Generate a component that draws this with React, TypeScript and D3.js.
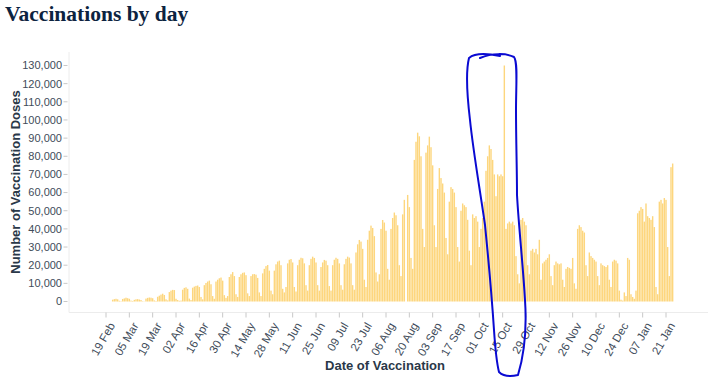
import React from 'react';
import * as d3 from 'd3';

// ---- data ----
const startDate = '2021-02-22'; // first day of dailyDoses (Monday)
// daily vaccination doses, grouped by week (Mon..Sun)
const dailyDoses: number[] = [
  0, 1000, 1300, 1500, 1200, 400, 200,
  1400, 1700, 2100, 1800, 1500, 500, 300,
  900, 1200, 1300, 1100, 800, 200, 100,
  1600, 2000, 2200, 2100, 1800, 600, 300,
  2600, 3200, 3800, 4300, 3600, 1200, 600,
  5200, 6000, 6400, 6300, 1500, 800, 400,
  500, 6500, 7500, 7800, 7000, 1600, 800,
  7600, 8200, 8600, 8800, 8000, 2500, 1200,
  9000, 10200, 11000, 11500, 9500, 3000, 1500,
  11000, 12000, 12800, 13200, 11500, 3500, 2000,
  3000, 13500, 15000, 16200, 14000, 4000, 2500,
  13500, 15000, 15800, 16000, 14500, 4500, 3000,
  14000, 15000, 15100, 14800, 13000, 5000, 3000,
  15500, 18000, 19500, 20100, 17000, 6000, 4000,
  17000, 20500, 22000, 22500, 20000, 7000, 5000,
  8000, 21000, 23000, 23400, 21500, 8000, 5500,
  20000, 23000, 24100, 23800, 21000, 9000, 6000,
  20000, 23500, 24700, 24000, 21500, 9000, 6000,
  19000, 21500, 22900, 22500, 20000, 8500, 6000,
  20000, 23000, 24100, 23500, 21000, 9000, 6500,
  20500, 23500, 24700, 24200, 21000, 9000, 6500,
  27000, 31500, 33900, 33000, 29000, 12000, 8000,
  34000, 39000, 41800, 40500, 36000, 16000, 11000,
  15000, 40000, 44900, 43500, 39000, 18000, 12000,
  40000, 46000, 49000, 47500, 42000, 20000, 14000,
  48000, 56000, 0, 58700, 52000, 24000, 18000,
  78000, 88000, 93000, 91000, 80000, 40000, 30000,
  82000, 86000, 90800, 85000, 75000, 42000, 30000,
  62000, 73500, 68000, 65000, 60000, 35000, 26000,
  55000, 63000, 62000, 60000, 52000, 30000, 22000,
  50000, 54000, 53000, 52000, 45000, 28000, 20000,
  48000, 46000, 47000, 44000, 30000, 40000, 46000,
  55000, 72000, 80000, 86000, 84000, 78000, 70000,
  58000, 70000, 69000, 70000, 69000, 130000, 40000,
  43000, 44000, 43000, 44000, 42000, 25000, 15000,
  10000, 45000, 46000, 44000, 42000, 20000, 15000,
  28000, 29000, 27000, 29000, 26000, 34000, 12000,
  21000, 22000, 23000, 24000, 26000, 14000, 9000,
  20000, 22000, 21000, 20500, 21000, 12000, 8000,
  18000, 19000, 18500, 18000, 24000, 10000, 7000,
  40000, 42000, 41000, 39000, 38000, 20000, 14000,
  27000, 25000, 24000, 23000, 22000, 14000, 9000,
  21000, 20000, 19500, 19000, 20000, 12000, 8000,
  22000, 23000, 22500, 21000, 6000, 1000, 500,
  5000, 3000, 24000, 23000, 4000, 2500, 1500,
  6000, 48600, 50000, 52000, 51000, 44000, 54000,
  47000, 46000, 45000, 47000, 41000, 8000, 4000,
  55000, 56000, 54000, 57000, 56000, 30000, 14000,
  74000, 76000,
];
const yTickValues = [0, 10000, 20000, 30000, 40000, 50000, 60000, 70000, 80000, 90000, 100000, 110000, 120000, 130000];
const xTickFirst = '2021-02-19';
const xTickLast = '2022-01-21';
const xTickStepDays = 14;

const titleText = 'Vaccinations by day';
const yTitle = 'Number of Vaccination Doses';
const xTitle = 'Date of Vaccination';

export default function App() {
  const W = 711;
  const H = 392;
  const parse = d3.utcParse('%Y-%m-%d');
  const start = parse(startDate) as Date;
  const data = dailyDoses.map((v, i) => ({ date: d3.utcDay.offset(start, i), value: v }));
  const t0 = parse(xTickFirst) as Date;
  const t1 = parse(xTickLast) as Date;

  const x = d3.scaleUtc().domain([t0, t1]).range([106, 666]);
  const y = d3.scaleLinear().domain([0, 130000]).range([301.5, 65.5]);
  const xTicks = d3.utcDay.range(t0, d3.utcDay.offset(t1, 1), 1).filter((d, i) => i % xTickStepDays === 0);
  const fmt = d3.utcFormat('%d %b');
  const yFmt = d3.format(',');

  const barW = 1.4;
  const axisY = 312.5;
  const axisX = 69;
  const labelColor = '#414c5a';
  const font = 'Liberation Sans, Arial, sans-serif';

  const loop =
    'M 480 58 C 492 53, 506 53, 514 57 C 518 62, 516 85, 516 110 C 516 140, 517 170, 517 195 ' +
    'C 519 230, 523 265, 525 300 C 527 330, 524 355, 518 375 C 510 377, 503 376, 499 372 ' +
    'C 496 360, 495 345, 494 330 C 492 300, 489 265, 485 225 C 480 190, 473 150, 470 120 ' +
    'C 467 95, 466 70, 469 58 C 476 52, 490 54, 500 56';

  return (
    <svg width={W} height={H} style={{ position: 'absolute', left: 0, top: 0, background: '#fff' }}>
      <text x={5} y={21} fontFamily="Liberation Serif, serif" fontWeight="bold" fontSize={21.5} fill="#0c2340">
        {titleText}
      </text>

      {/* axis domains */}
      <line x1={axisX} x2={axisX} y1={52} y2={axisY} stroke="#ececec" strokeWidth={1} />
      <line x1={axisX} x2={708} y1={axisY} y2={axisY} stroke="#ececec" strokeWidth={1} />

      {/* y axis */}
      {yTickValues.map((v) => (
        <g key={v}>
          <line x1={63.5} x2={67.5} y1={y(v)} y2={y(v)} stroke="#c8c8c8" />
          <text x={62} y={y(v)} dy="0.35em" textAnchor="end" fontFamily={font} fontSize={11} fill={labelColor}>
            {yFmt(v)}
          </text>
        </g>
      ))}
      <text
        transform={`translate(19.5,182) rotate(-90)`}
        textAnchor="middle"
        fontFamily={font}
        fontWeight="bold"
        fontSize={13}
        fill="#2a3848"
      >
        {yTitle}
      </text>

      {/* bars */}
      {data.map((d, i) =>
        d.value > 0 ? (
          <rect
            key={i}
            x={x(d.date) - barW / 2}
            y={y(d.value)}
            width={barW}
            height={y(0) - y(d.value)}
            fill="#fdd67e"
          />
        ) : null
      )}

      {/* x axis */}
      {xTicks.map((t, i) => (
        <g key={i}>
          <line x1={x(t)} x2={x(t)} y1={axisY} y2={axisY + 5} stroke="#c8c8c8" />
          <text
            transform={`translate(${x(t) + 6},${axisY + 11}) rotate(-60)`}
            textAnchor="end"
            dy="0.35em"
            fontFamily={font}
            fontSize={11.5}
            fill={labelColor}
          >
            {fmt(t)}
          </text>
        </g>
      ))}
      <text x={385} y={370} textAnchor="middle" fontFamily={font} fontWeight="bold" fontSize={13} fill="#2a3848">
        {xTitle}
      </text>

      {/* hand-drawn annotation */}
      <path d={loop} fill="none" stroke="#0a0ad2" strokeWidth={2} strokeLinecap="round" strokeLinejoin="round" />
    </svg>
  );
}
